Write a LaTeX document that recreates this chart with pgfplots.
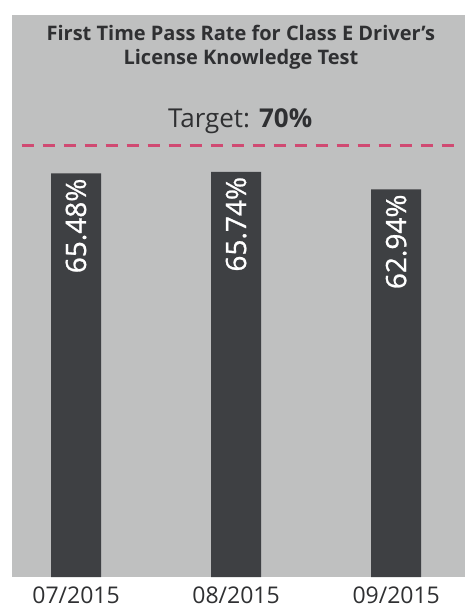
\documentclass[border=0pt]{standalone}
\usepackage{fontspec}
\setmainfont{Open Sans}
\newfontfamily\labelfont{Open Sans}[FakeBold=0.9]
\usepackage{pgfplots}
\pgfplotsset{compat=1.18}
\definecolor{bg}{HTML}{BFC0C0}
\definecolor{barc}{HTML}{3E4043}
\definecolor{txt}{HTML}{2F3032}
\definecolor{tgt}{HTML}{D04A72}
\begin{document}
\begin{tikzpicture}
\path[use as bounding box, fill=white] (-12pt,-32pt) rectangle (455pt,577pt);
\begin{axis}[
  at={(0pt,0pt)}, anchor=south west,
  scale only axis, width=453pt, height=562pt,
  xmin=-0.4, xmax=2.43, ymin=1, ymax=90.8,
  clip=false,
  axis line style={draw=none}, tick style={draw=none},
  axis background/.style={fill=bg},
  ytick=\empty,
  xtick={0,1,2}, xticklabels={07/2015,08/2015,09/2015},
  xticklabel style={font=\fontsize{23}{26}\selectfont, text=txt, anchor=north, yshift=-2pt},
  ybar, bar width=50pt, bar shift=0pt,
  point meta=explicit symbolic,
  nodes near coords,
  nodes near coords style={rotate=90, anchor=east, inner sep=5pt, text=white,
    font=\labelfont\fontsize{28}{31}\selectfont},
]
\addplot[fill=barc, draw=none] coordinates {(0,65.48) [65.48\%] (1,65.74) [65.74\%] (2,62.94) [62.94\%]};
\addplot[sharp plot, tgt, line width=3pt, dash pattern=on 12pt off 9pt, nodes near coords={}] coordinates {(-0.34,70) (2.4,70)};
\node[anchor=base, text=txt, font=\fontsize{26}{30}\selectfont] at (axis cs:1.025,72.9) {Target: \textbf{70\%}};
\node[anchor=base, text=txt, font=\bfseries\fontsize{20}{24}\selectfont] at (axis cs:1.03,86.67) {First Time Pass Rate for Class E Driver's};
\node[anchor=base, text=txt, font=\bfseries\fontsize{20}{24}\selectfont] at (axis cs:1.03,82.95) {License Knowledge Test};
\end{axis}
\end{tikzpicture}
\end{document}
